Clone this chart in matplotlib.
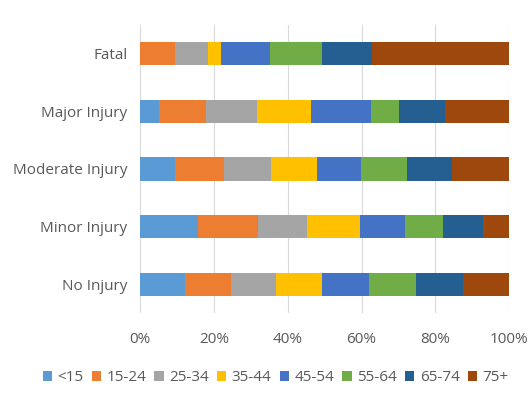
import numpy as np
import matplotlib
matplotlib.use("Agg")
import matplotlib.pyplot as plt
from matplotlib.ticker import PercentFormatter

plt.rcParams['font.family'] = ['Open Sans', 'DejaVu Sans']

categories = ["Fatal", "Major Injury", "Moderate Injury", "Minor Injury", "No Injury"]
age_groups = ["<15", "15-24", "25-34", "35-44", "45-54", "55-64", "65-74", "75+"]

# share of each age group per injury class (%)
fatal = [0.0, 9.5, 8.8, 3.6, 13.3, 14.0, 13.5, 37.3]
major = [5.2, 12.6, 13.9, 14.5, 16.3, 7.5, 12.7, 17.3]
moderate = [9.5, 13.3, 12.8, 12.4, 11.8, 12.5, 12.1, 15.6]
minor = [15.7, 16.2, 13.2, 14.6, 12.1, 10.3, 10.9, 7.0]
no_injury = [12.3, 12.3, 12.2, 12.5, 12.6, 12.7, 12.8, 12.6]

colors = ["#5B9BD5", "#ED7D31", "#A5A5A5", "#FFC000",
          "#4472C4", "#70AD47", "#255E91", "#9E480E"]

data = np.array([fatal, major, moderate, minor, no_injury])
data = data / data.sum(axis=1, keepdims=True)

fig = plt.figure(figsize=(5.28, 3.96), dpi=100)
ax = fig.add_axes([0.2652, 0.2096, 0.6994, 0.7273])

y = np.arange(len(categories))
left = np.zeros(len(categories))
for i, grp in enumerate(age_groups):
    ax.barh(y, data[:, i], left=left, height=0.4, color=colors[i], label=grp)
    left += data[:, i]

ax.set_xlim(0, 1)
ax.set_ylim(len(categories) - 0.5, -0.5)
ax.set_yticks(y)
ax.set_yticklabels(categories)
ax.set_xticks(np.linspace(0, 1, 6))
ax.xaxis.set_major_formatter(PercentFormatter(1.0, decimals=0))
ax.tick_params(axis='both', length=0, labelsize=11, labelcolor='#595959')
ax.tick_params(axis='x', pad=14)
ax.tick_params(axis='y', pad=9)

ax.grid(axis='x', color='#D9D9D9', linewidth=0.8)
ax.set_axisbelow(True)
for s in ax.spines.values():
    s.set_visible(False)

fig.legend(loc='center', bbox_to_anchor=(0.522, 0.046), ncol=8, frameon=False,
           fontsize=11, labelcolor='#595959', handlelength=0.6, handleheight=0.6,
           handletextpad=0.35, columnspacing=0.55)

fig.savefig("out.png", dpi=100)
